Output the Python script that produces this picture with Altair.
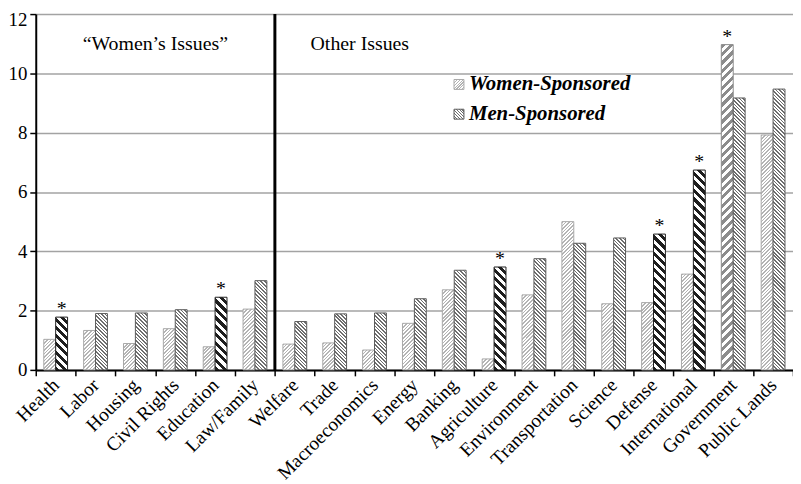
import altair as alt

# ---------------- data ----------------
categories = ["Health", "Labor", "Housing", "Civil Rights", "Education", "Law/Family",
              "Welfare", "Trade", "Macroeconomics", "Energy", "Banking", "Agriculture",
              "Environment", "Transportation", "Science", "Defense", "International",
              "Government", "Public Lands"]
women = [1.03, 1.33, 0.89, 1.39, 0.78, 2.05, 0.87, 0.91, 0.67, 1.57, 2.70, 0.37,
         2.53, 5.00, 2.23, 2.27, 3.23, 10.97, 7.92]
men = [1.78, 1.90, 1.92, 2.03, 2.45, 3.01, 1.63, 1.89, 1.92, 2.40, 3.36, 3.47,
       3.75, 4.27, 4.45, 4.58, 6.74, 9.17, 9.47]
women_sig = ["Government"]
men_sig = ["Health", "Education", "Agriculture", "Defense", "International"]
y_ticks = [0, 2, 4, 6, 8, 10, 12]
series = ["Women-Sponsored", "Men-Sponsored"]

# ---------------- layout ----------------
W, H = 764, 359
YMAX = 12
OFF_PAD = 0.675
BAR_W = W / len(categories) / (2 + 2 * OFF_PAD)
FONT = "Liberation Serif"


def hatch(w, h, slash, color, period, frac):
    """Linear gradient with hard stops that renders as 45-degree hatching."""
    L = w + h
    lam = L / (w * w + h * h)
    a, b = w * lam, h * lam
    n = max(1, round(L / period))
    stops = []
    for k in range(n):
        o0 = round(k / n, 5)
        o1 = round((k + frac) / n, 5)
        o2 = round((k + 1) / n, 5)
        stops += [{"offset": o0, "color": color}, {"offset": o1, "color": color},
                  {"offset": o1, "color": "#ffffff"}, {"offset": o2, "color": "#ffffff"}]
    if slash:
        x1, y1, x2, y2 = 0, 0, a, b
    else:
        x1, y1, x2, y2 = 0, 1, a, 1 - b
    return {"gradient": "linear", "x1": x1, "y1": y1, "x2": round(x2, 5),
            "y2": round(y2, 5), "stops": stops}


STYLE = {
    ("Women-Sponsored", False): dict(slash=True, color="#b4b4b4", period=3.6, frac=0.45, stroke="#a8a8a8"),
    ("Women-Sponsored", True): dict(slash=True, color="#8c8c8c", period=8.5, frac=0.5, stroke="#8c8c8c"),
    ("Men-Sponsored", False): dict(slash=False, color="#6e6e6e", period=3.6, frac=0.45, stroke="#5a5a5a"),
    ("Men-Sponsored", True): dict(slash=False, color="#1e1e1e", period=8.5, frac=0.5, stroke="#1e1e1e"),
}

rows = []
for c, wv, mv in zip(categories, women, men):
    for sp, v, sig_list in ((series[0], wv, women_sig), (series[1], mv, men_sig)):
        sig = c in sig_list
        st = STYLE[(sp, sig)]
        h = v / YMAX * H
        rows.append({"cat": c, "sponsor": sp, "value": v, "sig": sig,
                     "g": hatch(BAR_W, h, st["slash"], st["color"], st["period"], st["frac"]),
                     "stroke": st["stroke"]})

xaxis = alt.Axis(labelAngle=-45, labelAlign="right", labelBaseline="middle",
                 labelFont=FONT, labelFontSize=19.5, labelColor="black", labelPadding=6,
                 tickBand="extent", tickColor="black", tickWidth=1.5, tickSize=6,
                 domainColor="black", domainWidth=2, grid=False, title=None)
yaxis = alt.Axis(values=y_ticks, labelFont=FONT, labelFontSize=19, labelColor="black",
                 labelPadding=3,
                 labelOffset={"condition": {"test": "datum.value == 12", "value": 5.5}, "value": 0},
                 tickColor="black", tickWidth=1.5, tickSize=6,
                 domainColor="black", domainWidth=2, grid=True, gridColor="#a3a3a3",
                 gridWidth=1.5, title=None)
xscale = alt.Scale(domain=categories, paddingInner=0, paddingOuter=0)
yscale = alt.Scale(domain=[0, YMAX], nice=False)


def X(**kw):
    return alt.X("cat:N", sort=categories, scale=xscale, axis=xaxis, title=None, **kw)


def Y():
    return alt.Y("value:Q", scale=yscale, axis=yaxis, stack=None, title=None)


XO = alt.XOffset("sponsor:N", sort=series,
                 scale=alt.Scale(domain=series, paddingInner=0, paddingOuter=OFF_PAD))

base = alt.Chart(alt.Data(values=rows))

bars = base.mark_bar(strokeWidth=1).encode(
    x=X(), xOffset=XO, y=Y(),
    fill=alt.Fill("g:N", scale=None),
    stroke=alt.Stroke("stroke:N", scale=None),
)

stars = base.transform_filter("datum.sig").mark_text(
    text="*", font=FONT, fontSize=20, fill="black", baseline="alphabetic", dy=-2
).encode(x=X(), xOffset=XO, y=Y())

divider = alt.Chart(alt.Data(values=[{"cat": "Welfare"}])).mark_rule(
    color="black", strokeWidth=3
).encode(x=X(bandPosition=0))

t_women = alt.Chart(alt.Data(values=[{"cat": "Civil Rights", "value": 11,
                                      "label": "\u201cWomen\u2019s Issues\u201d"}])).mark_text(
    font=FONT, fontSize=20, fill="black", align="center", baseline="middle"
).encode(x=X(bandPosition=0), y=Y(), text="label:N")

t_other = alt.Chart(alt.Data(values=[{"cat": "Welfare", "value": 11,
                                      "label": "Other Issues"}])).mark_text(
    font=FONT, fontSize=20, fill="black", align="left", baseline="middle", dx=36
).encode(x=X(bandPosition=0), y=Y(), text="label:N")

one = alt.Data(values=[{}])
leg_w_sym = alt.Chart(one).mark_square(
    size=100, fill=hatch(10, 10, True, "#b4b4b4", 3, 0.45), stroke="#a8a8a8",
    strokeWidth=1, opacity=1
).encode(x=alt.value(427), y=alt.value(71))
leg_m_sym = alt.Chart(one).mark_square(
    size=100, fill=hatch(10, 10, False, "#6e6e6e", 3, 0.45), stroke="#5a5a5a",
    strokeWidth=1, opacity=1
).encode(x=alt.value(427), y=alt.value(101))
leg_text_style = dict(font=FONT, fontSize=21, fontStyle="italic", fontWeight="bold",
                      fill="black", align="left", baseline="middle")
leg_w_txt = alt.Chart(one).mark_text(**leg_text_style).encode(
    x=alt.value(437), y=alt.value(71), text=alt.value(series[0]))
leg_m_txt = alt.Chart(one).mark_text(**leg_text_style).encode(
    x=alt.value(437), y=alt.value(101), text=alt.value(series[1]))

chart = alt.layer(
    bars, stars, divider, t_women, t_other, leg_w_sym, leg_m_sym, leg_w_txt, leg_m_txt
).properties(
    width=W, height=H,
    padding={"left": 28, "top": 4, "right": 0, "bottom": 113},
    autosize=alt.AutoSizeParams(type="none"),
    background="white",
).configure_view(stroke=None)

chart.save("out.html", embed_options={"renderer": "svg", "actions": False})
